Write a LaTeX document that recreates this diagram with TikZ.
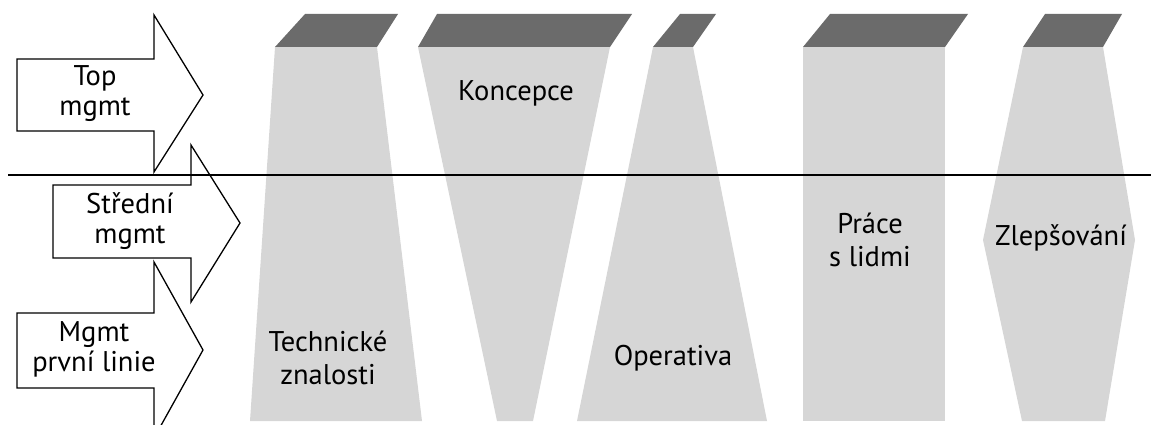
\documentclass[tikz,border=0pt]{standalone}
\usepackage{fontspec}
\setmainfont{PT Sans}
\begin{document}
\begin{tikzpicture}[x=1pt,y=-1pt]
	\tikzset{
		body/.style={fill=black!16, draw=none},
		lid/.style={fill=black!58, draw=none},
		arrowbox/.style={draw=black, line width=1.3pt, line join=miter},
		lbl/.style={font=\fontsize{28.5}{33}\selectfont, align=center, inner sep=0pt},
		side/.style={lbl, font=\fontsize{28.5}{30}\selectfont},
	}
	\useasboundingbox (0,0) rectangle (1151,425);
	\def\yt{14}
	\def\yl{47}
	\def\yb{421}
	% columns
	\fill[body] (275,\yl) -- (377,\yl) -- (422,\yb) -- (250,\yb) -- cycle;
	\fill[lid] (275,\yl) -- (305,\yt) -- (398,\yt) -- (377,\yl) -- cycle;
	\fill[body] (418,\yl) -- (610,\yl) -- (533,\yb) -- (497,\yb) -- cycle;
	\fill[lid] (418,\yl) -- (437,\yt) -- (632,\yt) -- (610,\yl) -- cycle;
	\fill[body] (653,\yl) -- (693,\yl) -- (767,\yb) -- (577,\yb) -- cycle;
	\fill[lid] (653,\yl) -- (680,\yt) -- (716,\yt) -- (693,\yl) -- cycle;
	\fill[body] (803,\yl) -- (945,\yl) -- (945,\yb) -- (803,\yb) -- cycle;
	\fill[lid] (803,\yl) -- (830,\yt) -- (968,\yt) -- (945,\yl) -- cycle;
	\fill[body] (1023,\yl) -- (1103,\yl) -- (1135,240) -- (1105,\yb) -- (1022,\yb) -- (983,240) -- cycle;
	\fill[lid] (1023,\yl) -- (1045,\yt) -- (1122,\yt) -- (1103,\yl) -- cycle;
	% level line
	\draw[line width=2pt] (8,175) -- (1151,175);
	% arrows
	\draw[arrowbox] (17,59) -- (154,59) -- (154,15) -- (203,95) -- (154,172) -- (154,131) -- (17,131) -- cycle;
	\draw[arrowbox] (53,185) -- (191,185) -- (191,145) -- (240,223) -- (191,302) -- (191,258) -- (53,258) -- cycle;
	\draw[arrowbox] (17,313) -- (154,313) -- (154,262) -- (203,350) -- (154,438) -- (154,388) -- (17,388) -- cycle;
	% labels
	\node[side] (top) at (95,94) {Top\\mgmt};
	\node[side] (stredni) at (130,221) {Střední\\mgmt};
	\node[side] (prvni) at (94,349) {Mgmt\\první linie};
	\node[lbl] (koncepce) at (516,93) {Koncepce};
	\node[lbl] (technicke) at (328,358) {Technické\\znalosti};
	\node[lbl] (operativa) at (673,358) {Operativa};
	\node[lbl] (prace) at (870,240) {Práce\\s lidmi};
	\node[lbl] (zlepsovani) at (1061,238) {Zlepšování};
\end{tikzpicture}
\end{document}
